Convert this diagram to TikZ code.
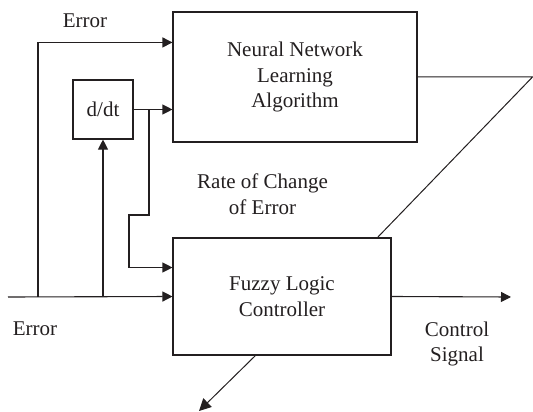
\documentclass[tikz,border=0pt]{standalone}
\usepackage{fontspec}
\setmainfont{Liberation Serif}
\usetikzlibrary{arrows.meta,calc}
\definecolor{ink}{RGB}{35,31,32}
\begin{document}
\begin{tikzpicture}[x=1pt,y=-1pt,
  every node/.style={font=\fontsize{21}{25.5}\selectfont, text=ink},
  block/.style={draw=ink, line width=1.1pt, inner sep=0pt, align=center},
  label/.style={inner sep=0pt, align=center},
  wire/.style={draw=ink, line width=1.1pt},
  arr/.style={wire, -{Triangle[length=10pt,width=10pt]}},
  thin wire/.style={draw=ink, line width=1pt}]
\useasboundingbox (0,0) rectangle (533,412);

% blocks
\node[block, minimum width=244pt, minimum height=130pt] (nn) at (295,77)
  {Neural Network\\Learning\\Algorithm};
\node[block, minimum width=218pt, minimum height=117pt] (fz) at (282,296.5)
  {Fuzzy Logic\\Controller};
\node[block, minimum width=60pt, minimum height=59pt] (dd) at (103,109.5) {d/dt};

% labels
\node[label, anchor=base] (errTop) at (85,28) {Error};
\node[label, anchor=base] (errIn) at (35,335) {Error};
\node[label] (rate) at (262.5,194) {Rate of Change\\of Error};
\node[label] (ctl) at (457,344) {Control\\Signal};

% junctions and free ends
\coordinate (in) at (8,297);
\coordinate (b1) at (38,297);
\coordinate (b2) at (103,297);
\coordinate (b3) at (149,109.5);
\coordinate (k1) at (129,215);
\coordinate (cr) at (532.5,77);
\coordinate (fzTop) at (377,238);
\coordinate (fzBot) at (256,355);
\coordinate (tip) at (199,411);
\coordinate (out) at (511,297);

% error path
\draw[arr] (in) -- (fz.west);
\draw[arr] (b1) |- ([yshift=-31pt]nn.north west);
\draw[arr] (b2) -- (dd.south);

% derivative path
\draw[arr] (dd.east) -- (nn.west |- dd.east);
\draw[arr] (b3) |- (k1) |- ([yshift=29pt]fz.west);

% learning feedback to the controller
\draw[thin wire] (nn.east) -- (cr) -- (fzTop);
\draw[thin wire, -{Triangle[length=12pt,width=12pt]}] (fzBot) -- (tip);

% control output
\draw[arr] (fz.east) -- (out);
\end{tikzpicture}
\end{document}
